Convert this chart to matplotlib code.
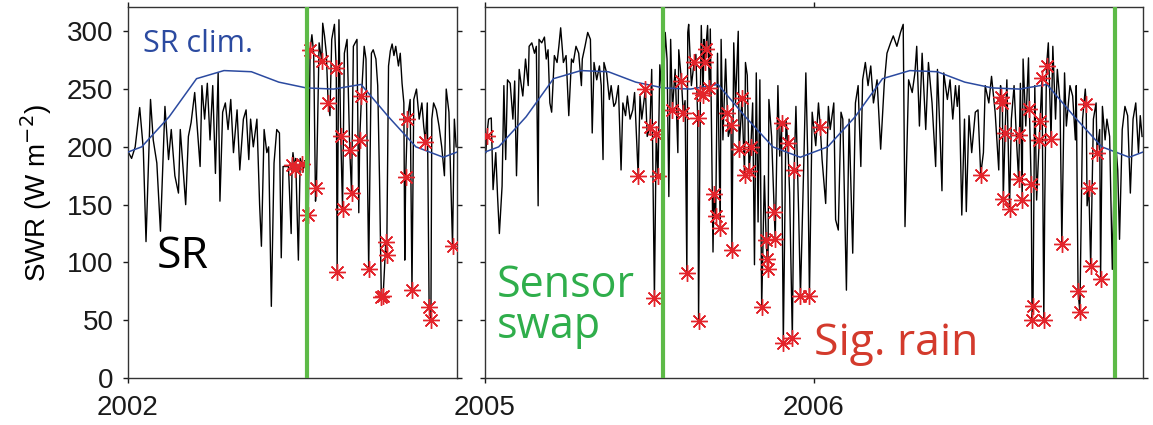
import matplotlib
matplotlib.use("Agg")
import matplotlib.pyplot as plt
import numpy as np

plt.rcParams['font.family'] = ['Liberation Sans', 'DejaVu Sans']
ANNOT_FONT = ['Open Sans', 'DejaVu Sans']

# ---- data (day of year, W m^-2) ----
# 2002 (SR), days since 2002-01-01
sr02_day = [0, 4, 8, 13, 17, 20, 25, 28, 32, 36, 41, 45, 48, 52, 56, 58, 61, 64, 67, 70,
            74, 77, 80, 82, 85, 88, 91, 94, 97, 100, 102, 105, 108, 111, 114, 117, 121,
            124, 128, 131, 134, 136, 139, 143, 146, 148, 151, 154, 156, 159, 162, 165,
            168, 170, 172, 178, 181, 183, 186, 189, 191, 194, 196, 199, 204, 206, 208,
            212, 216, 218, 220, 224, 226, 229, 234, 240, 243, 250, 254, 256, 262, 264,
            270, 272, 275, 277, 279, 289, 291, 293, 295, 297, 300, 302, 304, 306, 307,
            313, 317, 320, 323, 326, 328, 332, 337, 339, 342, 345, 348, 351, 353, 356,
            362, 364]
sr02_val = [196, 190, 200, 234, 198, 118, 241, 206, 186, 127, 235, 189, 215, 175, 160, 215,
            183, 150, 209, 221, 247, 215, 183, 253, 224, 255, 206, 253, 177, 264, 153, 230,
            238, 215, 241, 195, 232, 180, 224, 232, 189, 224, 200, 224, 150, 114, 215, 195,
            200, 62, 186, 215, 212, 104, 183, 183, 125, 195, 190, 102, 190, 178, 188, 188,
            297, 281, 153, 290, 307, 296, 281, 227, 293, 306, 310, 281, 293, 287, 293, 143,
            287, 276, 281, 284, 276, 253, 172, 270, 283, 289, 279, 287, 270, 281, 255, 238,
            102, 241, 241, 250, 224, 238, 218, 238, 224, 238, 232, 218, 200, 175, 250, 230,
            224, 200]
rain02_day = [182, 185, 193, 200, 202, 209, 215, 222, 231, 232, 236, 238, 246, 248, 257,
              259, 267, 281, 283, 286, 287, 308, 310, 315, 330, 334, 336, 360]
rain02_val = [184, 181, 185, 141, 284, 164, 274, 238, 268, 92, 209, 146, 197, 160, 206,
              244, 94, 70, 71, 118, 106, 174, 224, 76, 204, 61, 50, 114]

# 2005-2006, days since 2005-01-01
sr05_day = [1, 4, 7, 9, 12, 14, 16, 19, 21, 23, 25, 28, 31, 33, 35, 38, 40, 42, 45, 48, 49,
            52, 55, 57, 59, 60, 63, 66, 68, 70, 72, 74, 77, 80, 82, 84, 87, 90, 93, 96, 98,
            101, 104, 107, 108, 111, 114, 117, 119, 121, 124, 127, 129, 131, 132, 135, 138,
            140, 143, 145, 148, 151, 153, 156, 158, 161, 164, 166, 172, 174, 180, 185, 194,
            196, 198, 200, 202, 204, 206, 211, 214, 215, 222, 225, 226, 229, 234, 240, 243,
            247, 250, 253, 258, 262, 264, 267, 270, 276, 278, 281, 284, 289, 291, 297, 299,
            301, 303, 305, 310, 315, 318, 323, 325, 327, 334, 338, 345, 348, 354, 356, 358,
            363, 367, 370, 374, 378, 381, 383, 387, 389, 392, 395, 397, 401, 404, 408, 411,
            414, 417, 419, 422, 425, 428, 431, 435, 439, 443, 446, 450, 453, 457, 461, 464,
            466, 470, 474, 477, 479, 482, 485, 489, 492, 496, 500, 502, 505, 507, 509, 513,
            516, 519, 522, 524, 526, 529, 532, 534, 537, 540, 544, 547, 553, 555, 559, 562,
            566, 570, 572, 579, 584, 587, 590, 594, 597, 600, 603, 610, 612, 621, 625, 630,
            633, 635, 638, 643, 645, 649, 652, 655, 656, 663, 666, 668, 675, 678, 682, 685,
            688, 690, 693, 696, 699, 702, 704, 707, 710, 713, 716, 719, 722, 725, 727, 729]
sr05_val = [195, 224, 225, 163, 195, 157, 125, 166, 253, 189, 258, 255, 224, 257, 175, 267,
            255, 244, 276, 253, 287, 290, 281, 287, 149, 293, 290, 295, 276, 284, 238, 230,
            279, 273, 287, 303, 273, 279, 227, 276, 273, 287, 281, 253, 276, 287, 299, 293,
            212, 273, 258, 270, 253, 189, 273, 264, 241, 253, 235, 238, 253, 180, 238, 227,
            244, 224, 232, 247, 244, 224, 209, 267, 271, 250, 250, 299, 276, 157, 293, 267,
            195, 284, 240, 299, 306, 253, 280, 305, 293, 305, 302, 109, 281, 293, 206, 276,
            209, 290, 238, 300, 224, 273, 262, 238, 98, 264, 135, 258, 175, 241, 209, 160,
            253, 192, 224, 160, 235, 143, 195, 264, 195, 230, 201, 238, 189, 151, 235, 215,
            238, 137, 128, 230, 224, 76, 224, 108, 238, 253, 183, 258, 273, 253, 270, 238,
            258, 198, 255, 281, 290, 296, 287, 299, 306, 131, 258, 247, 264, 287, 218, 281,
            215, 273, 238, 183, 267, 209, 162, 264, 241, 258, 224, 253, 235, 253, 141, 224,
            144, 227, 195, 230, 232, 195, 253, 238, 261, 230, 180, 253, 258, 224, 253, 201,
            255, 276, 218, 277, 253, 154, 149, 290, 287, 224, 267, 238, 264, 218, 253, 244,
            206, 253, 224, 250, 149, 224, 238, 215, 235, 206, 224, 209, 94, 212, 180, 120,
            215, 235, 227, 160, 224, 238, 195, 227, 209]
rain05_day = [2, 170, 178, 183, 188, 190, 192, 208, 218, 220, 224, 232, 236, 237, 239, 242,
              244, 245, 249, 254, 256, 261, 269, 273, 274, 282, 285, 288, 293, 295, 307,
              312, 313, 314, 321, 322, 329, 331, 336, 341, 343, 350, 360, 372, 550, 573,
              574, 575, 577, 582, 592, 593, 596, 604, 606, 607, 608, 615, 616, 618, 620,
              623, 628, 640, 658, 660, 667, 670, 672, 679, 683]
rain05_val = [209, 175, 250, 217, 69, 211, 175, 232, 257, 229, 91, 273, 225, 49, 247, 245,
              273, 285, 251, 159, 140, 130, 229, 219, 111, 198, 242, 176, 179, 200, 61, 119,
              103, 94, 144, 120, 221, 30, 203, 35, 180, 71, 71, 217, 176, 243, 238, 155, 212,
              146, 172, 210, 154, 233, 168, 50, 62, 206, 222, 260, 50, 270, 207, 116, 75, 57,
              237, 164, 97, 195, 86]

# monthly SR climatology (mid-month values)
clim_val = [200, 226, 259, 266, 265, 256, 251, 250, 254, 226, 200, 191]

# sensor swap dates (decimal year)
swap_dates = [2002.545, 2005.54, 2006.915]

# ---- helpers ----
def merged(day, val, rday, rval, year0):
    d = np.concatenate([day, rday])
    v = np.concatenate([val, rval])
    o = np.argsort(d, kind='stable')
    return year0 + d[o] / 365.0, v[o]

def clim_curve(y_start, y_end):
    mid = (np.arange(12) + 0.5) / 12.0
    t, v = [], []
    for yr in range(y_start - 1, y_end + 1):
        t.extend(yr + mid)
        v.extend(clim_val)
    return np.array(t), np.array(v)

t02, v02 = merged(sr02_day, sr02_val, rain02_day, rain02_val, 2002)
t05, v05 = merged(sr05_day, sr05_val, rain05_day, rain05_val, 2005)

fig = plt.figure(figsize=(11.53, 4.25), dpi=100)
ax1 = fig.add_axes([0.111, 0.1106, 0.2854, 0.8729])
ax2 = fig.add_axes([0.4206, 0.1106, 0.5707, 0.8729])

star = dict(marker=(8, 2, 0), color='#e3242b', markersize=12, markeredgewidth=1.0,
            linestyle='none', zorder=4)

for ax, (t, v), rday, rval, y0, lims in [
        (ax1, (t02, v02), rain02_day, rain02_val, 2002, (2002, 2003)),
        (ax2, (t05, v05), rain05_day, rain05_val, 2005, (2005, 2007))]:
    ax.plot(t, v, color='black', lw=1.0, zorder=2)
    tc, vc = clim_curve(lims[0], lims[1])
    ax.plot(tc, vc, color='#2b4aa0', lw=1.1, zorder=3)
    ax.plot(y0 + np.array(rday) / 365.0, rval, **star)
    for s in swap_dates:
        if lims[0] < s < lims[1]:
            ax.axvline(s, color='#5dba47', lw=3, zorder=5)
    ax.set_xlim(*lims)
    ax.set_ylim(0, 321)
    ax.set_yticks(np.arange(0, 301, 50))
    ax.tick_params(direction='out', length=3.5, width=1, labelsize=20,
                   top=True, right=True, colors='#1a1a1a')
    ax.tick_params(axis='y', pad=7)
    ax.tick_params(axis='x', pad=9)
    for sp in ax.spines.values():
        sp.set_color('#333333')
        sp.set_linewidth(1.0)

ax1.set_xticks([2002])
ax1.set_xticklabels(['2002'])
ax2.set_xticks([2005, 2006])
ax2.set_xticklabels(['2005', '2006'])
ax2.set_yticklabels([])
ax1.set_ylabel('SWR (W m$^{-2}$)', fontsize=20, labelpad=9)

ax1.text(2002.046, 289, 'SR clim.', color='#2b4aa0', fontsize=22, va='center', ha='left',
         family=ANNOT_FONT)
ax1.text(2002.088, 105, 'SR', color='black', fontsize=32, va='center', ha='left',
         family=ANNOT_FONT)
ax2.text(2005.036, 70, 'Sensor', color='#2fae4b', fontsize=31, va='baseline', ha='left',
         family=ANNOT_FONT)
ax2.text(2005.036, 35, 'swap', color='#2fae4b', fontsize=31, va='baseline', ha='left',
         family=ANNOT_FONT)
ax2.text(2006.0, 20, 'Sig. rain', color='#d33a2c', fontsize=32, va='baseline', ha='left',
         family=ANNOT_FONT)

fig.savefig('out.png', dpi=100)
